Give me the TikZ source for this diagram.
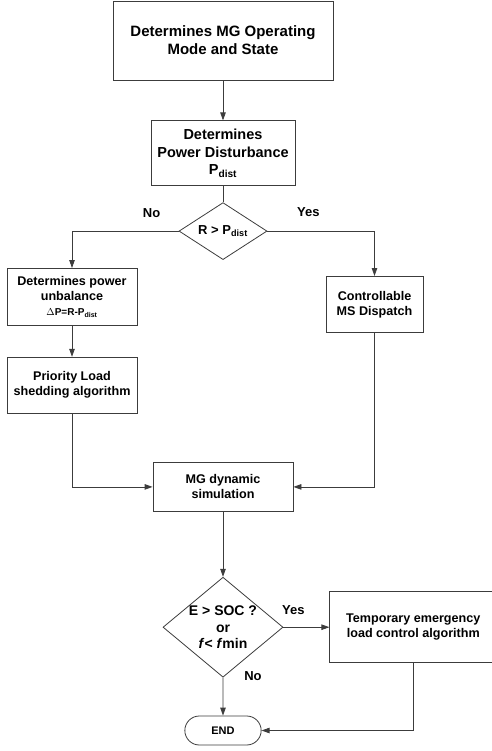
\documentclass[tikz,border=0pt]{standalone}
\usepackage{fontspec}
\setmainfont{Liberation Sans}
\usetikzlibrary{positioning,shapes.geometric,shapes.misc,arrows.meta}
\definecolor{LineGray}{HTML}{3C3C3C}

\begin{document}
\begin{tikzpicture}[x=1pt, y=-1pt, every node/.style={font=\bfseries, text=black}]
  \tikzstyle{box}=[rectangle, draw=LineGray, line width=0.8pt, align=center, inner sep=2pt]
  \tikzstyle{sbox}=[box, font=\fontsize{12.6}{15}\selectfont\bfseries]
  \tikzstyle{decision}=[diamond, draw=LineGray, line width=0.8pt, align=center, inner sep=0pt]
  \tikzstyle{lbl}=[font=\fontsize{13}{15}\selectfont\bfseries, inner sep=0pt]
  \tikzstyle{flow}=[-{Triangle[length=8pt,width=5.5pt]}, draw=LineGray, line width=0.8pt]
  \useasboundingbox (0,0) rectangle (491,751);

  \node[box, minimum width=220pt, minimum height=79pt, font=\fontsize{15}{18}\selectfont\bfseries] (mode) at (223,40.5) {Determines MG Operating\\Mode and State};
  \node[box, below=40pt of mode, minimum width=144pt, minimum height=65pt, font=\fontsize{14.5}{17.5}\selectfont\bfseries] (dist) {Determines\\Power Disturbance\\P\textsubscript{dist}};
  \node[decision, below=16pt of dist, aspect=1.54, minimum width=88pt, minimum height=57pt, font=\fontsize{13}{15}\selectfont\bfseries] (cmp) {R > P\textsubscript{dist}};
  \node[sbox, below=8pt of cmp, xshift=-151pt, minimum width=130pt, minimum height=57pt] (unbal) {Determines power\\unbalance\\{\fontsize{10}{13}\selectfont $\Delta$P=R-P\textsubscript{dist}}};
  \node[sbox, below=31pt of unbal, minimum width=130pt, minimum height=56pt] (shed) {Priority Load\\shedding algorithm};
  \node[sbox, below=16pt of cmp, xshift=151.5pt, minimum width=97pt, minimum height=56pt] (msd) {Controllable\\MS Dispatch};
  \node[sbox, below=202pt of cmp, minimum width=140pt, minimum height=49pt] (sim) {MG dynamic\\simulation};
  \node[decision, below=65pt of sim, minimum width=120pt, minimum height=100pt, inner sep=-10pt, font=\fontsize{14}{16.5}\selectfont\bfseries] (chk) {E > SOC ?\\or\\\textit{f}< \textit{f}min};
  \node[sbox, right=46pt of chk, minimum width=167pt, minimum height=71pt] (temp) {Temporary emergency\\load control algorithm};
  \node[rounded rectangle, draw=LineGray, line width=0.8pt, below=38pt of chk, minimum width=83pt, minimum height=29pt, font=\fontsize{11}{13}\selectfont\bfseries] (endn) {END};

  % branch labels
  \node[lbl] (no1) at ([xshift=-27pt, yshift=18.5pt]cmp.west) {No};
  \node[lbl] (yes1) at ([xshift=41pt, yshift=19.5pt]cmp.east) {Yes};
  \node[lbl] (yes2) at ([xshift=10pt, yshift=17pt]chk.east) {Yes};
  \node[lbl] (no2) at ([xshift=30pt, yshift=2pt]chk.south) {No};

  \draw[flow] (mode) -- (dist);
  \draw[draw=LineGray, line width=0.8pt] (dist) -- (cmp);
  \draw[flow] (cmp.west) -| (unbal.north);
  \draw[flow] (cmp.east) -| (msd.north);
  \draw[flow] (unbal) -- (shed);
  \draw[flow] (shed.south) |- (sim.west);
  \draw[flow] (msd.south) |- (sim.east);
  \draw[flow] (sim) -- (chk);
  \draw[flow] (chk.east) -- (temp.west);
  \draw[flow] (chk) -- (endn);
  \draw[flow] (temp.south) |- (endn.east);
\end{tikzpicture}
\end{document}
